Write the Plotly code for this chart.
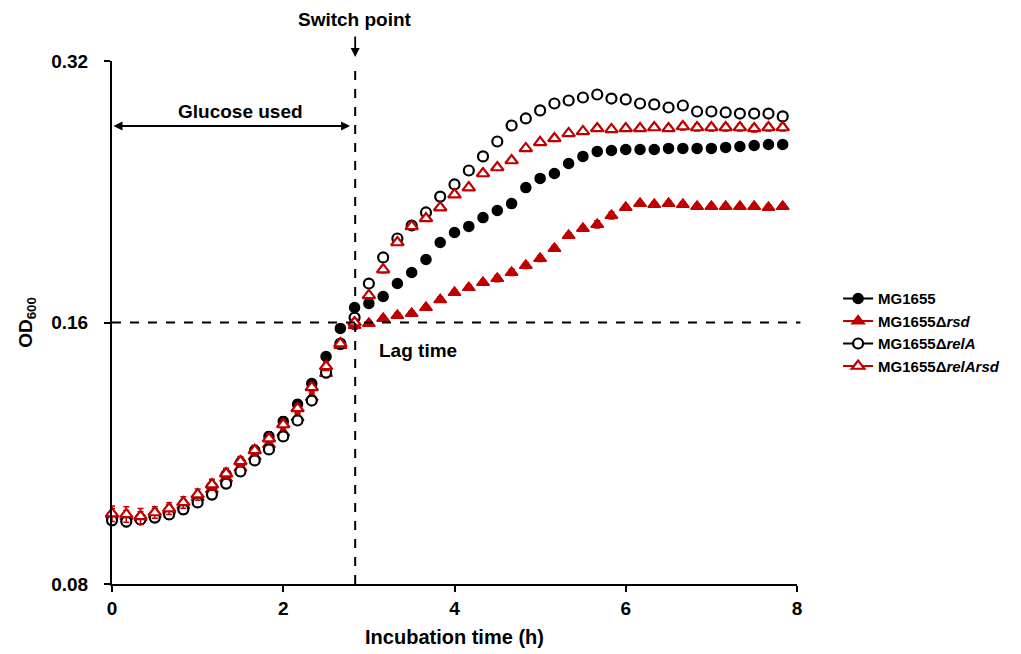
import plotly.graph_objects as go

# Incubation time (h), sampled every 10 min
time_h = [0.000, 0.167, 0.333, 0.500, 0.667, 0.833, 1.000, 1.167, 1.333, 1.500, 1.667, 1.833,
          2.000, 2.167, 2.333, 2.500, 2.667, 2.833, 3.000, 3.167, 3.333, 3.500, 3.667, 3.833,
          4.000, 4.167, 4.333, 4.500, 4.667, 4.833, 5.000, 5.167, 5.333, 5.500, 5.667, 5.833,
          6.000, 6.167, 6.333, 6.500, 6.667, 6.833, 7.000, 7.167, 7.333, 7.500, 7.667, 7.833]

od_mg1655 = [0.0952, 0.0949, 0.0952, 0.0959, 0.0969, 0.0985, 0.1006, 0.1036, 0.1069, 0.1104, 0.1140, 0.1183,
             0.1231, 0.1288, 0.1361, 0.1462, 0.1575, 0.1665, 0.1683, 0.1714, 0.1774, 0.1827, 0.1891, 0.1978,
             0.2031, 0.2064, 0.2113, 0.2153, 0.2193, 0.2288, 0.2344, 0.2375, 0.2439, 0.2485, 0.2518, 0.2524,
             0.2531, 0.2531, 0.2531, 0.2538, 0.2538, 0.2538, 0.2538, 0.2545, 0.2551, 0.2558, 0.2565, 0.2565]

od_rsd = [0.0962, 0.0957, 0.0954, 0.0962, 0.0972, 0.0985, 0.1006, 0.1028, 0.1058, 0.1089, 0.1122, 0.1158,
          0.1195, 0.1244, 0.1312, 0.1398, 0.1505, 0.1587, 0.1596, 0.1617, 0.1630, 0.1639, 0.1665, 0.1700,
          0.1732, 0.1755, 0.1779, 0.1798, 0.1827, 0.1861, 0.1896, 0.1947, 0.2015, 0.2053, 0.2075, 0.2125,
          0.2170, 0.2193, 0.2188, 0.2193, 0.2188, 0.2176, 0.2176, 0.2176, 0.2176, 0.2176, 0.2170, 0.2176]

od_rela = [0.0947, 0.0944, 0.0949, 0.0954, 0.0962, 0.0975, 0.0993, 0.1014, 0.1044, 0.1078, 0.1110, 0.1143,
           0.1183, 0.1234, 0.1301, 0.1401, 0.1513, 0.1621, 0.1774, 0.1901, 0.1999, 0.2069, 0.2142, 0.2234,
           0.2307, 0.2394, 0.2485, 0.2585, 0.2697, 0.2748, 0.2807, 0.2859, 0.2882, 0.2905, 0.2928, 0.2897,
           0.2890, 0.2859, 0.2852, 0.2829, 0.2844, 0.2799, 0.2799, 0.2792, 0.2784, 0.2784, 0.2784, 0.2763]

od_relarsd = [0.0964, 0.0962, 0.0957, 0.0967, 0.0977, 0.0993, 0.1014, 0.1041, 0.1072, 0.1107, 0.1140, 0.1176,
              0.1221, 0.1274, 0.1347, 0.1424, 0.1513, 0.1600, 0.1719, 0.1841, 0.1978, 0.2064, 0.2108, 0.2170,
              0.2246, 0.2288, 0.2375, 0.2413, 0.2458, 0.2538, 0.2579, 0.2606, 0.2641, 0.2655, 0.2676, 0.2669,
              0.2676, 0.2676, 0.2683, 0.2676, 0.2690, 0.2683, 0.2683, 0.2683, 0.2683, 0.2676, 0.2683, 0.2683]

err_mg1655 = [0.0015, 0.0015, 0.0012, 0.0012, 0.0012, 0.0012, 0.0012, 0.0015, 0.0015, 0.0015, 0.0015, 0.0015,
              0.0015, 0.0015, 0.0015, 0.0015, 0.0015, 0.0015, 0.0015, 0.0015, 0.0015, 0.0015, 0.0015, 0.0015,
              0.0015, 0.0015, 0.0015, 0.0015, 0.0015, 0.0020, 0.0020, 0.0020, 0.0025, 0.0025, 0.0020, 0.0020,
              0.0015, 0.0015, 0.0015, 0.0015, 0.0015, 0.0015, 0.0015, 0.0015, 0.0015, 0.0015, 0.0015, 0.0015]

err_rsd = [0.0015, 0.0015, 0.0015, 0.0015, 0.0015, 0.0015, 0.0015, 0.0015, 0.0015, 0.0015, 0.0015, 0.0015,
           0.0015, 0.0015, 0.0015, 0.0015, 0.0015, 0.0015, 0.0012, 0.0012, 0.0012, 0.0012, 0.0012, 0.0012,
           0.0012, 0.0012, 0.0012, 0.0015, 0.0015, 0.0015, 0.0015, 0.0015, 0.0015, 0.0015, 0.0020, 0.0020,
           0.0015, 0.0015, 0.0015, 0.0015, 0.0015, 0.0015, 0.0015, 0.0015, 0.0015, 0.0015, 0.0015, 0.0015]

err_rela = [0.0012, 0.0012, 0.0012, 0.0012, 0.0012, 0.0012, 0.0012, 0.0012, 0.0012, 0.0012, 0.0012, 0.0012,
            0.0012, 0.0012, 0.0012, 0.0012, 0.0012, 0.0012, 0.0012, 0.0012, 0.0012, 0.0012, 0.0012, 0.0012,
            0.0012, 0.0012, 0.0012, 0.0012, 0.0012, 0.0012, 0.0012, 0.0012, 0.0012, 0.0012, 0.0012, 0.0012,
            0.0012, 0.0012, 0.0012, 0.0012, 0.0012, 0.0012, 0.0012, 0.0012, 0.0012, 0.0012, 0.0012, 0.0012]

err_relarsd = [0.0020, 0.0020, 0.0020, 0.0015, 0.0015, 0.0015, 0.0015, 0.0015, 0.0015, 0.0015, 0.0015, 0.0015,
               0.0015, 0.0015, 0.0015, 0.0015, 0.0015, 0.0015, 0.0015, 0.0015, 0.0015, 0.0015, 0.0015, 0.0015,
               0.0015, 0.0015, 0.0015, 0.0015, 0.0015, 0.0015, 0.0015, 0.0015, 0.0015, 0.0015, 0.0020, 0.0020,
               0.0020, 0.0020, 0.0020, 0.0020, 0.0025, 0.0025, 0.0025, 0.0025, 0.0025, 0.0025, 0.0025, 0.0025]

names = ["MG1655", "MG1655\u0394<i>rsd</i>", "MG1655\u0394<i>relA</i>", "MG1655\u0394<i>relArsd</i>"]
y_ticks = [0.08, 0.16, 0.32]
x_ticks = [0, 2, 4, 6, 8]
switch_time = 2.84
lag_od = 0.16

RED = "#C00000"
BLACK = "#000000"
FONT = "Liberation Sans"

series = [
    (od_mg1655, err_mg1655, dict(symbol="circle", size=10, color=BLACK, line=dict(color=BLACK, width=1.5)), BLACK),
    (od_rsd, err_rsd, dict(symbol="triangle-up", size=11, color=RED, line=dict(color=RED, width=1.5)), RED),
    (od_rela, err_rela, dict(symbol="circle", size=10, color="white", line=dict(color=BLACK, width=2.2)), BLACK),
    (od_relarsd, err_relarsd, dict(symbol="triangle-up", size=11, color="white", line=dict(color=RED, width=2.2)), RED),
]

fig = go.Figure()
for (vals, errs, marker, col), name in zip(series, names):
    fig.add_trace(go.Scatter(
        x=time_h, y=vals, mode="markers", marker=marker, showlegend=False,
        error_y=dict(type="data", array=errs, color=col, thickness=1.5, width=3),
        cliponaxis=False, name=name))
# legend entries (line + marker)
for (vals, errs, marker, col), name in zip(series, names):
    fig.add_trace(go.Scatter(
        x=[None], y=[None], mode="lines+markers", marker=marker,
        line=dict(color=col, width=2), name=name, showlegend=True))

# dashed reference lines
fig.add_shape(type="line", xref="x", yref="paper", x0=switch_time, x1=switch_time, y0=0, y1=0.998,
              line=dict(color="black", width=2, dash="dash"))
fig.add_shape(type="line", xref="paper", yref="y", x0=0, x1=1.005, y0=lag_od, y1=lag_od,
              line=dict(color="black", width=2, dash="dash"))

# annotations
ann_font = dict(family=FONT, size=19, color="black")
fig.add_annotation(x=switch_time, y=1.0075, xref="x", yref="paper", ax=0, ay=-22,
                   showarrow=True, arrowhead=2, arrowsize=1, arrowwidth=1.8, arrowcolor="black", text="")
fig.add_annotation(x=switch_time, y=1.079, xref="x", yref="paper", text="<b>Switch point</b>",
                   showarrow=False, font=ann_font, yanchor="middle")
fig.add_annotation(x=2.78, y=0.8757, xref="x", yref="paper", ax=0.0, ay=0, axref="x", ayref="pixel",
                   showarrow=True, arrowhead=2, startarrowhead=2, arrowside="end+start", arrowsize=1,
                   arrowwidth=1.8, arrowcolor="black", text="")
fig.add_annotation(x=1.5, y=0.903, xref="x", yref="paper", text="<b>Glucose used</b>",
                   showarrow=False, font=ann_font, yanchor="middle")
fig.add_annotation(x=3.57, y=0.447, xref="x", yref="paper", text="<b>Lag time</b>",
                   showarrow=False, font=ann_font, yanchor="middle")

fig.update_layout(
    width=1021, height=654,
    margin=dict(l=112, r=224, t=61, b=70, autoexpand=False),
    paper_bgcolor="white", plot_bgcolor="white",
    font=dict(family=FONT, size=16, color="black"),
    legend=dict(x=1.06, y=0.577, xanchor="left", yanchor="top",
                font=dict(family=FONT, size=15, color="black", weight="bold"),
                tracegroupgap=0, itemwidth=30, bgcolor="rgba(0,0,0,0)"),
    xaxis=dict(range=[0, 8], tickvals=x_ticks, ticktext=[f"<b>{v}</b>" for v in x_ticks],
               showgrid=False, zeroline=False, showline=True, linecolor="black", linewidth=2,
               ticks="outside", ticklen=6, tickwidth=2, tickcolor="black",
               tickfont=dict(family=FONT, size=19, color="black"),
               title=dict(text="<b>Incubation time (h)</b>", font=dict(family=FONT, size=20, color="black"),
                          standoff=12)),
    yaxis=dict(type="log", range=[-1.09691, -0.49485], tickvals=y_ticks,
               ticktext=[f"<b>{v}</b>" for v in y_ticks],
               showgrid=False, zeroline=False, showline=True, linecolor="black", linewidth=2,
               ticks="outside", ticklen=6, tickwidth=2, tickcolor="black",
               tickfont=dict(family=FONT, size=19, color="black"), ticklabelstandoff=12,
               title=dict(text="<b>OD<sub>600</sub></b>", font=dict(family=FONT, size=19, color="black"),
                          standoff=14)),
)

fig.write_html("out.html")
